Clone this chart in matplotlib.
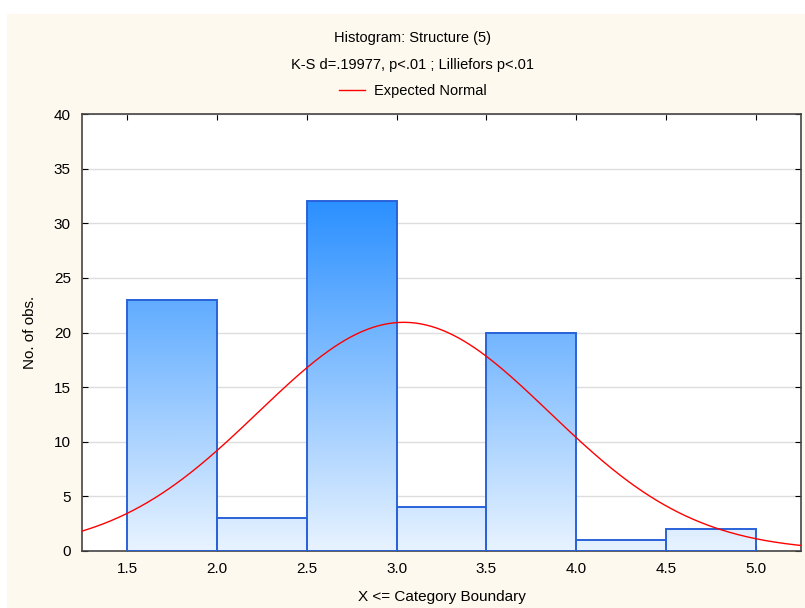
import numpy as np
import matplotlib
matplotlib.use("Agg")
import matplotlib.pyplot as plt
from matplotlib.colors import LinearSegmentedColormap
from matplotlib.patches import Rectangle

plt.rcParams["font.family"] = ["Liberation Sans", "DejaVu Sans"]

# histogram data
bin_edges = [1.5, 2.0, 2.5, 3.0, 3.5, 4.0, 4.5, 5.0]
counts = [23, 3, 32, 4, 20, 1, 2]
n_obs = sum(counts)
# expected normal parameters
norm_mean = 3.04
norm_sd = 0.81

xticks = [1.5, 2.0, 2.5, 3.0, 3.5, 4.0, 4.5, 5.0]
yticks = [0, 5, 10, 15, 20, 25, 30, 35, 40]

cream = "#fef9ee"
grad = LinearSegmentedColormap.from_list("bars", ["#e8f3ff", "#2b90ff"])

fig = plt.figure(figsize=(8.05, 6.08), dpi=100)
fig.patch.set_facecolor("white")
fig.patches.append(Rectangle((7 / 805, 0), 1, 1 - 14 / 608, transform=fig.transFigure,
                             facecolor=cream, edgecolor="none", zorder=-10))

ax = fig.add_axes([82 / 805, 57 / 608, 719 / 805, 437 / 608])
ax.set_facecolor("white")

for i, c in enumerate(counts):
    x0, x1 = bin_edges[i], bin_edges[i + 1]
    col = np.linspace(0, c, 256).reshape(-1, 1)
    ax.imshow(col, cmap=grad, vmin=0, vmax=32, extent=[x0, x1, 0, c],
              origin="lower", aspect="auto", zorder=2)
    ax.add_patch(Rectangle((x0, 0), x1 - x0, c, facecolor="none",
                           edgecolor="#2a62d8", lw=1.4, zorder=3))

widths = np.diff(bin_edges)
xs = np.linspace(1.25, 5.25, 400)
ys = n_obs * widths[0] * np.exp(-0.5 * ((xs - norm_mean) / norm_sd) ** 2) / (norm_sd * np.sqrt(2 * np.pi))
line, = ax.plot(xs, ys, color="red", lw=1, zorder=4, label="Expected Normal")

ax.set_xlim(1.25, 5.25)
ax.set_ylim(0, 40)
ax.set_xticks(xticks)
ax.set_xticklabels([f"{v:.1f}" for v in xticks])
ax.set_yticks(yticks)
ax.yaxis.grid(True, color="#dddddd", lw=1, zorder=0)
ax.set_axisbelow(True)
ax.tick_params(direction="in", top=True, right=True, length=4, labelsize=11,
               pad=8, colors="black")
for s in ax.spines.values():
    s.set_color("#444444")
    s.set_linewidth(1.2)

ax.set_xlabel("X <= Category Boundary", fontsize=11, labelpad=10)
ax.set_ylabel("No. of obs.", fontsize=11, labelpad=12)

fig.text(0.513, 1 - 38 / 608, "Histogram: Structure (5)", ha="center", va="center", fontsize=10.5)
fig.text(0.513, 1 - 65 / 608, "K-S d=.19977, p<.01 ; Lilliefors p<.01", ha="center", va="center", fontsize=10.5)
fig.legend(handles=[line], loc="center", bbox_to_anchor=(0.513, 1 - 91 / 608),
           frameon=False, fontsize=10.5, handlelength=1.8, handletextpad=0.6)

fig.savefig("out.png", dpi=100, facecolor=fig.get_facecolor())
